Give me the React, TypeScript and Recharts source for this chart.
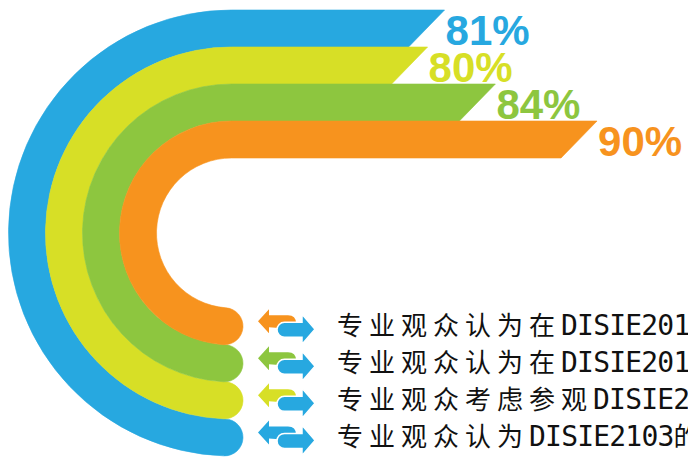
import React from 'react';
import { BarChart, Bar, XAxis, YAxis, LabelList } from 'recharts';

// ---- data (top band to inner band) ----
const bandNames = ['blue', 'yellow', 'green', 'orange'];
const percentValues = [81, 80, 84, 90];
const bandColors = ['#27A8E0', '#D7DF26', '#8DC63F', '#F7931E'];
const descriptions = [
  '专业观众认为DISIE2103的',
  '专业观众考虑参观DISIE2',
  '专业观众认为在DISIE201',
  '专业观众认为在DISIE201',
];
const valueDomain: [number, number] = [70, 94];

const data = bandNames.map((name, i) => ({
  name,
  value: percentValues[i],
  color: bandColors[i],
  desc: descriptions[i],
}));

// ---- layout constants ----
const W = 688;
const H = 458;
const CX = 231.5;
const CY = 233;
const ICON_X = 258;
const TEXT_X = 337;

function splitRuns(s: string) {
  return s.match(/[A-Za-z0-9]+|[^A-Za-z0-9]+/g) || [];
}

function BandShape(props: any) {
  const { x, y, width, height, payload } = props;
  const color = payload.color as string;
  const R = CY - y;
  const r = CY - (y + height);
  const h = height / 2;
  const m = (R + r) / 2;
  const xTop = x + width;
  const s = height - 1;
  const sinT = Math.min(0.99, 7 / m);
  const cosT = Math.sqrt(1 - sinT * sinT);
  const ix = CX - r * sinT;
  const iy = CY + r * cosT;
  const ox = CX - R * sinT;
  const oy = CY + R * cosT;
  const d = `M${CX},${CY - R} L${xTop},${CY - R} L${xTop - s},${CY - r} L${CX},${CY - r} A${r},${r} 0 0 0 ${ix},${iy} A${h},${h} 0 0 1 ${ox},${oy} A${R},${R} 0 0 1 ${CX},${CY - R} Z`;

  const y0 = CY + m * cosT;
  const x0 = ICON_X;
  const leftArrow = `M${x0},${y0 - 5} L${x0 + 11},${y0 - 17} L${x0 + 11},${y0 - 11} L${x0 + 30},${y0 - 11} Q${x0 + 38},${y0 - 11} ${x0 + 38},${y0 - 3} L${x0 + 38},${y0 + 3} L${x0 + 11},${y0 + 1} L${x0 + 11},${y0 + 7} Z`;
  const rightArrow = `M${x0 + 26.5},${y0 - 4} L${x0 + 44},${y0 - 4} L${x0 + 44},${y0 - 12} L${x0 + 57},${y0 + 3} L${x0 + 44},${y0 + 18} L${x0 + 44},${y0 + 11} L${x0 + 26.5},${y0 + 11} A7.5,7.5 0 0 1 ${x0 + 26.5},${y0 - 4} Z`;

  const runs = splitRuns(payload.desc as string);

  return (
    <g>
      <path d={d} fill={color} stroke={color} strokeWidth={0.6} />
      <path d={leftArrow} fill={color} />
      <path d={rightArrow} fill="#27A8E0" stroke="#ffffff" strokeWidth={1.5} />
      <text x={TEXT_X} y={y0 + 9} fill="#111111">
        {runs.map((run, k) =>
          /[A-Za-z0-9]/.test(run) ? (
            <tspan key={k} fontFamily="'DejaVu Sans Mono', monospace" fontSize={28} letterSpacing={-0.8}>
              {run}
            </tspan>
          ) : (
            <tspan key={k} fontFamily="'Noto Sans CJK SC', sans-serif" fontSize={26} letterSpacing={6}>
              {run}
            </tspan>
          )
        )}
      </text>
    </g>
  );
}

function PercentLabel(props: any) {
  const { x, y, width, height, value, index } = props;
  return (
    <text
      x={x + width + 1}
      y={y + height - 2}
      fill={bandColors[index]}
      fontFamily="'Liberation Sans', Arial, sans-serif"
      fontWeight="bold"
      fontSize={42}
    >
      {`${value}%`}
    </text>
  );
}

export default function App() {
  return (
    <div style={{ position: 'absolute', left: 0, top: 0, width: W, height: H, background: '#ffffff' }}>
      <BarChart
        width={W}
        height={H}
        data={data}
        layout="vertical"
        margin={{ top: 10, right: 23.2, bottom: 300, left: 258.2 }}
        barCategoryGap={0}
      >
        <XAxis type="number" domain={valueDomain} hide />
        <YAxis type="category" dataKey="name" hide />
        <Bar dataKey="value" isAnimationActive={false} shape={BandShape}>
          <LabelList dataKey="value" content={PercentLabel} />
        </Bar>
      </BarChart>
    </div>
  );
}
